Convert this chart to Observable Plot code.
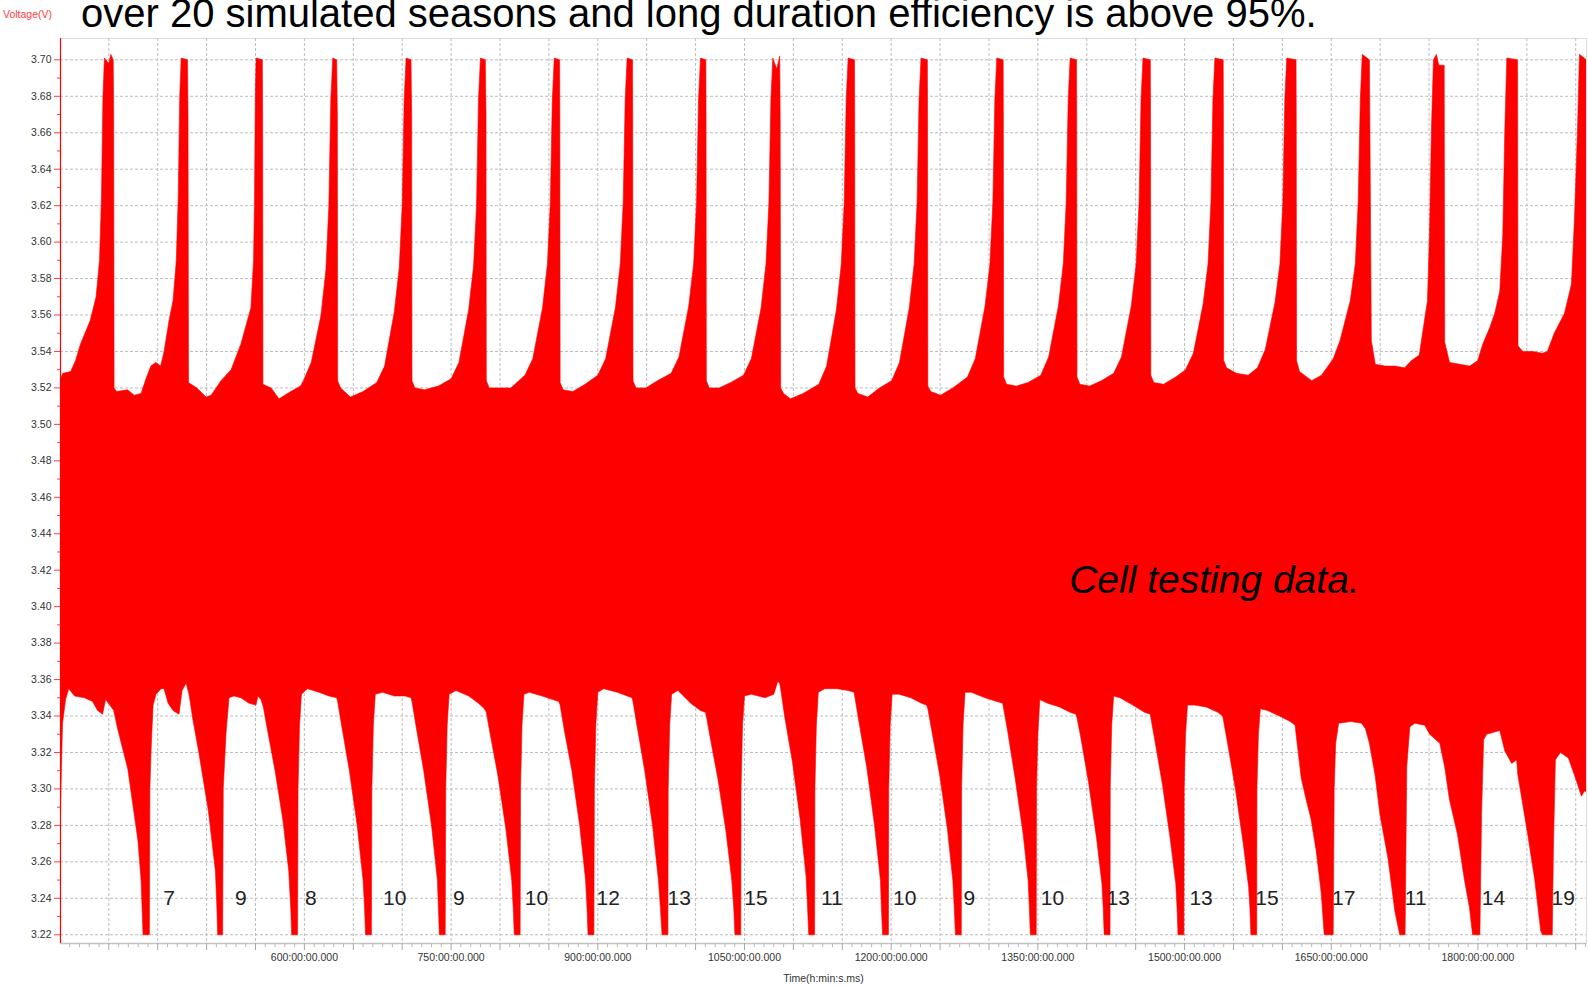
<!DOCTYPE html>
<html>
<head>
<meta charset="utf-8">
<script src="https://cdn.jsdelivr.net/npm/d3@7"></script>
<script src="https://cdn.jsdelivr.net/npm/@observablehq/plot@0.6"></script>
<style>
  html, body { margin: 0; padding: 0; background: #fff; }
  body { width: 1588px; height: 987px; overflow: hidden; font-family: "Liberation Sans", Arial, sans-serif; }
  #head { position: relative; height: 38px; overflow: hidden; }
  #ylab { position: absolute; left: 3px; top: 8px; font-size: 10.5px; line-height: 12px; color: #ff3b3b; white-space: nowrap; }
  #title { position: absolute; left: 81px; top: -7px; font-size: 40px; line-height: 40px; color: #000; white-space: nowrap; }
  #chart svg { display: block; }
</style>
</head>
<body>
<div id="head">
  <div id="ylab">Voltage(V)</div>
  <div id="title">over 20 simulated seasons and long duration efficiency is above 95%.</div>
</div>
<div id="chart"></div>
<script>
// Time in hours, voltage in V — upper envelope of the cycling signal
const upperEnvelope = [
[350.6,3.525],[353,3.528],[361,3.529],[366,3.535],[371,3.544],[381,3.557],[387,3.57],[390.5,3.59],[392.5,3.625],[394,3.68],[395.5,3.701],[400,3.698],[402,3.703],[404.5,3.70],[405,3.67],[405.4,3.52],
[408,3.518],[419,3.519],[426,3.516],[433,3.517],[438,3.525],[443,3.532],[448,3.534],[453,3.532],[456.5,3.54],[461.6,3.557],[465.7,3.568],[469,3.59],[471,3.625],[472.5,3.68],[474,3.701],[480.5,3.70],[481,3.67],[481.5,3.523],
[490,3.52],[499.5,3.515],[504.6,3.516],[509.7,3.52],[514.7,3.524],[525,3.53],[535,3.544],[545.3,3.564],[548,3.59],[549,3.625],[549.8,3.68],[550.6,3.701],[557,3.70],[557.3,3.67],[557.6,3.522],
[566,3.52],[574,3.514],[586,3.518],[596,3.521],[599,3.524],[607,3.534],[617,3.56],[622,3.585],[625,3.62],[627,3.678],[629,3.701],[633,3.70],[633.7,3.67],[634,3.524],
[637,3.52],[647,3.515],[660,3.518],[674,3.523],[682,3.532],[692,3.562],[697,3.586],[700,3.62],[702,3.678],[704,3.701],[709,3.70],[709.7,3.67],[710,3.524],
[713,3.52],[723,3.519],[737,3.521],[750,3.525],[758,3.534],[768,3.563],[773,3.587],[776,3.62],[778,3.678],[780,3.701],[785,3.70],[785.7,3.67],[786,3.524],
[789,3.52],[799,3.52],[811,3.52],[825.5,3.527],[833.5,3.536],[843.5,3.564],[848.5,3.588],[851.5,3.622],[853.5,3.678],[855.5,3.701],[861,3.70],[861.2,3.67],[861.5,3.523],
[864.5,3.519],[874.5,3.518],[887,3.522],[900,3.527],[908,3.536],[918,3.564],[923,3.588],[926,3.622],[928,3.678],[930,3.701],[935.5,3.70],[935.7,3.67],[936,3.524],
[939,3.52],[949,3.52],[961,3.524],[975,3.528],[983,3.537],[993,3.565],[998,3.588],[1001,3.622],[1003,3.678],[1005,3.701],[1010.5,3.70],[1010.7,3.67],[1011,3.524],
[1014,3.52],[1024,3.52],[1036,3.523],[1049,3.527],[1057,3.536],[1067,3.564],[1072,3.588],[1075,3.622],[1077,3.678],[1079,3.701],[1083,3.695],[1086,3.702],[1086.5,3.67],[1087,3.52],
[1090,3.517],[1097,3.514],[1110,3.517],[1126,3.522],[1134,3.532],[1144,3.563],[1149,3.588],[1152,3.622],[1154,3.678],[1156,3.701],[1162.5,3.70],[1162.7,3.67],[1163,3.52],
[1166,3.517],[1176,3.515],[1188,3.52],[1200.5,3.524],[1208.5,3.534],[1218.5,3.564],[1223.5,3.588],[1226.5,3.622],[1228.5,3.678],[1230.5,3.701],[1237,3.70],[1237.2,3.67],[1237.5,3.521],
[1240.5,3.518],[1250.5,3.516],[1263,3.52],[1278,3.526],[1286,3.536],[1296,3.565],[1301,3.588],[1304,3.622],[1306,3.678],[1308,3.701],[1314.5,3.70],[1314.7,3.67],[1315,3.526],
[1318,3.522],[1328,3.521],[1340,3.523],[1353,3.527],[1361,3.537],[1371,3.565],[1376,3.588],[1379,3.622],[1381,3.678],[1383,3.701],[1389.5,3.70],[1389.7,3.67],[1390,3.526],
[1393,3.522],[1403,3.521],[1415,3.524],[1427.5,3.528],[1435.5,3.537],[1445.5,3.565],[1450.5,3.588],[1453.5,3.622],[1455.5,3.678],[1457.5,3.701],[1465,3.70],[1465.2,3.67],[1465.5,3.527],
[1468.5,3.523],[1478.5,3.522],[1491,3.526],[1501,3.53],[1509,3.539],[1519,3.566],[1524,3.588],[1527,3.622],[1529,3.678],[1531,3.701],[1539.5,3.70],[1539.7,3.67],[1540,3.535],
[1543,3.531],[1553,3.528],[1565,3.527],[1574.5,3.531],[1582.5,3.541],[1592.5,3.567],[1597.5,3.588],[1600.5,3.622],[1602.5,3.678],[1604.5,3.701],[1614,3.70],[1614.2,3.67],[1614.5,3.535],
[1617.5,3.529],[1630,3.524],[1640,3.527],[1652,3.536],[1659,3.546],[1669.5,3.568],[1674.6,3.588],[1677.6,3.623],[1679.7,3.678],[1681.7,3.703],[1689,3.70],[1689.5,3.665],[1691,3.546],[1695,3.533],
[1705,3.532],[1715,3.532],[1725,3.531],[1732,3.535],[1740,3.538],[1745.3,3.557],[1748.4,3.568],[1750.4,3.604],[1752.5,3.663],[1754.5,3.70],[1757.5,3.703],[1760,3.697],[1765.5,3.697],[1766,3.545],[1771,3.534],
[1781.4,3.533],[1791.6,3.532],[1799.8,3.535],[1804.9,3.544],[1812,3.553],[1817.2,3.561],[1822.3,3.573],[1825.4,3.604],[1827.4,3.66],[1829.5,3.701],[1840.5,3.70],[1841,3.543],[1846,3.54],
[1856,3.54],[1866,3.539],[1871,3.54],[1878,3.55],[1888.5,3.561],[1895.6,3.577],[1898.7,3.613],[1901.7,3.66],[1903.8,3.703],[1911,3.70]
];

// lower envelope of the cycling signal
const lowerEnvelope = [
[350.6,3.288],[351.5,3.31],[352.7,3.336],[355.8,3.349],[359,3.355],[365,3.351],[375,3.35],[383.4,3.348],[388.5,3.343],[393.6,3.341],[396.7,3.349],[401,3.346],
[405,3.343],[409,3.333],[419.4,3.311],[429.7,3.272],[433,3.25],[435,3.22],[441.5,3.22],
[442,3.30],[443.2,3.321],[445.3,3.346],[448.3,3.352],[453.4,3.355],[456.5,3.355],[460.6,3.347],[465.7,3.343],[471.8,3.341],[474.9,3.354],[479,3.358],
[482,3.352],[486,3.338],[491.4,3.322],[501.8,3.288],[509,3.255],[510.5,3.235],[511.3,3.22],[516.4,3.22],
[517,3.30],[519.8,3.33],[522.9,3.35],[528,3.351],[535.1,3.35],[543.3,3.347],[550.5,3.346],[552.5,3.351],[555.6,3.349],
[558,3.345],[562,3.333],[570,3.31],[578,3.283],[584,3.255],[586,3.235],[587,3.22],[593,3.22],
[593.5,3.30],[595,3.335],[597,3.352],[603,3.355],[615,3.353],[625,3.351],[633,3.35],
[634,3.348],[638,3.335],[646,3.31],[654,3.28],[660,3.25],[661.5,3.235],[662.5,3.22],[668.5,3.22],
[669,3.30],[670.5,3.335],[672.5,3.352],[680,3.353],[692,3.351],[703,3.351],[709,3.35],
[710,3.348],[714,3.335],[722,3.31],[730,3.28],[736,3.25],[737,3.235],[738,3.22],[744,3.22],
[744.5,3.30],[746,3.335],[748,3.352],[755,3.354],[768,3.351],[778,3.347],[784,3.344],
[786,3.342],[790,3.33],[798,3.307],[806,3.278],[812,3.25],[813.5,3.235],[814.6,3.22],[820.6,3.22],
[821,3.30],[822.5,3.335],[824.5,3.352],[830,3.353],[843,3.351],[854,3.349],[860,3.348],
[861.5,3.346],[865.5,3.333],[873.5,3.31],[881.5,3.28],[887.5,3.25],[889,3.235],[890,3.22],[896,3.22],
[896.5,3.30],[898,3.335],[900,3.353],[906,3.355],[920,3.353],[930,3.351],[935,3.35],
[936,3.348],[940,3.335],[948,3.31],[956,3.28],[962,3.25],[964,3.235],[965.7,3.22],[971.7,3.22],
[972,3.30],[973.5,3.335],[975.5,3.352],[982,3.354],[995,3.347],[1005,3.343],[1010,3.342],
[1011,3.34],[1015,3.328],[1023,3.305],[1031,3.277],[1037,3.25],[1039,3.235],[1040.2,3.22],[1046.2,3.22],
[1046.5,3.30],[1048,3.335],[1050,3.351],[1057,3.352],[1071,3.35],[1080,3.352],[1084,3.359],[1086,3.358],
[1087,3.355],[1091,3.34],[1099,3.315],[1107,3.283],[1113,3.252],[1114.5,3.235],[1115.7,3.22],[1121.7,3.22],
[1122,3.30],[1123.5,3.335],[1125.5,3.353],[1132,3.355],[1145,3.355],[1156,3.354],[1162,3.353],
[1163,3.35],[1167,3.337],[1175,3.312],[1183,3.28],[1189,3.25],[1190,3.235],[1191.2,3.22],[1197.2,3.22],
[1197.5,3.30],[1199,3.335],[1201,3.352],[1208,3.352],[1220,3.35],[1231,3.347],[1236,3.346],
[1237.5,3.344],[1241.5,3.332],[1249.5,3.308],[1257.5,3.278],[1263,3.25],[1264.5,3.235],[1265.7,3.22],[1271.7,3.22],
[1272,3.30],[1273.5,3.335],[1275.5,3.353],[1282,3.353],[1296,3.35],[1308,3.348],[1314,3.347],
[1315,3.344],[1319,3.332],[1327,3.305],[1335,3.275],[1340,3.25],[1341.3,3.235],[1342.3,3.22],[1348.3,3.22],
[1348.6,3.30],[1350,3.33],[1352,3.349],[1360,3.347],[1372,3.345],[1383,3.342],[1389,3.341],
[1390,3.339],[1394,3.328],[1402,3.303],[1410,3.273],[1415.5,3.248],[1416.8,3.235],[1417.8,3.22],[1423.8,3.22],
[1424,3.30],[1425.5,3.335],[1427.5,3.351],[1434,3.35],[1447,3.346],[1459,3.342],[1465,3.341],
[1465.5,3.339],[1469.5,3.327],[1477.5,3.302],[1485.5,3.272],[1491,3.248],[1492.3,3.235],[1493.3,3.22],[1499.3,3.22],
[1499.6,3.30],[1501,3.33],[1503,3.346],[1510,3.346],[1522,3.345],[1534,3.342],[1539,3.34],
[1540,3.337],[1544,3.325],[1552,3.30],[1560,3.27],[1565.5,3.246],[1566.8,3.235],[1567.8,3.22],[1573.8,3.22],
[1574,3.30],[1575.5,3.33],[1577.5,3.344],[1585,3.343],[1597,3.34],[1608,3.337],[1613,3.335],
[1614.5,3.328],[1619.3,3.306],[1624.4,3.294],[1629.5,3.283],[1634.6,3.266],[1639.7,3.243],[1642.8,3.22],[1652,3.22],
[1653,3.30],[1654.5,3.325],[1657.6,3.336],[1670,3.337],[1681,3.336],[1685,3.333],[1689,3.325],
[1694.7,3.308],[1699.8,3.286],[1708,3.262],[1715,3.233],[1720,3.22],[1725.5,3.22],
[1727.2,3.312],[1730.3,3.334],[1735.4,3.336],[1745.6,3.335],[1750.7,3.33],[1761,3.325],[1766,3.312],
[1770.9,3.294],[1779.1,3.275],[1786.2,3.25],[1791.3,3.235],[1794.5,3.22],[1802,3.22],
[1803.7,3.286],[1805.8,3.327],[1808.9,3.33],[1822.3,3.332],[1827.4,3.321],[1834.5,3.314],[1839.6,3.316],[1840.7,3.308],
[1850.9,3.275],[1858.1,3.25],[1864.2,3.222],[1866,3.22],[1876,3.22],
[1877.2,3.268],[1879.2,3.316],[1884.3,3.32],[1892.5,3.317],[1899.7,3.306],[1905.8,3.296],[1908.9,3.299],[1911,3.298]
];

// numbers written next to each deep discharge
const dipCounts = [7, 9, 8, 10, 9, 10, 12, 13, 15, 11, 10, 9, 10, 13, 13, 15, 17, 11, 14, 19];
const dipCountTimes = [461.6, 535.1, 606.6, 692.4, 757.8, 837.3, 910.7, 983.2, 1061.7, 1139.3, 1213.8, 1280, 1364.9, 1432.1, 1516.9, 1584.2, 1662.8, 1736.4, 1815.9, 1887.2];

// axes
const yTickValues = [3.22, 3.24, 3.26, 3.28, 3.30, 3.32, 3.34, 3.36, 3.38, 3.40, 3.42, 3.44, 3.46, 3.48, 3.50, 3.52, 3.54, 3.56, 3.58, 3.60, 3.62, 3.64, 3.66, 3.68, 3.70];
const xLabelTicks = [600, 750, 900, 1050, 1200, 1350, 1500, 1650, 1800];
const xGridTicks = [400, 450, 500, 550, 600, 650, 700, 750, 800, 850, 900, 950, 1000, 1050, 1100, 1150, 1200, 1250, 1300, 1350, 1400, 1450, 1500, 1550, 1600, 1650, 1700, 1750, 1800, 1850, 1900];
const xDomain = [350.6, 1911];
const yDomain = [3.2152, 3.7117];

const yMinorTicks = d3.range(3.23, 3.71, 0.02).map(v => +v.toFixed(2));
const xMinorTicks = d3.range(360, 1911, 10).filter(t => t % 50 !== 0);

const toPts = arr => arr.map(([t, v]) => ({t, v}));
const band = toPts(upperEnvelope).concat(toPts(lowerEnvelope).reverse());
const countLabels = dipCounts.map((c, i) => ({t: dipCountTimes[i], v: 3.24, label: String(c)}));
const note = [{t: 1382, v: 3.4146, label: "Cell testing data."}];

const gridStyle = {stroke: "#bdbdbd", strokeOpacity: 1, strokeWidth: 1, strokeDasharray: "3,2"};

const chart = Plot.plot({
  width: 1588,
  height: 949,
  marginTop: 0,
  marginLeft: 60,
  marginRight: 2,
  marginBottom: 44,
  style: {fontFamily: "'Liberation Sans', Arial, sans-serif", fontSize: "10.5px", background: "#fff", color: "#333"},
  x: {domain: xDomain, label: null},
  y: {domain: yDomain, label: null},
  marks: [
    Plot.frame({stroke: "#dcdcdc"}),
    Plot.gridY(yTickValues, gridStyle),
    Plot.gridX(xGridTicks, gridStyle),
    Plot.line(band, {x: "t", y: "v", fill: "#ff0000", stroke: "#ff0000", strokeWidth: 0.6, curve: "linear", clip: true}),
    Plot.ruleY([yDomain[0]], {stroke: "#c4c4c4", strokeWidth: 1.5}),
    Plot.ruleX([xDomain[0]], {stroke: "#ff0000", strokeWidth: 1.2}),
    Plot.axisY(yTickValues, {tickSize: 6, tickPadding: 3, stroke: "#ff3b3b", fill: "#333", fontSize: 10.5, tickFormat: d3.format(".2f"), label: null}),
    Plot.axisY(yMinorTicks, {tickSize: 3, stroke: "#ff3b3b", tickFormat: () => "", label: null}),
    Plot.axisX(xGridTicks, {tickSize: 7, stroke: "#a8a8a8", tickFormat: () => "", label: null}),
    Plot.axisX(xMinorTicks, {tickSize: 4, stroke: "#b8b8b8", tickFormat: () => "", label: null}),
    Plot.axisX(xLabelTicks, {tickSize: 0, tickPadding: 10, fill: "#333", fontSize: 10.5, tickFormat: d => `${d}:00:00.000`, label: null}),
    Plot.text(["Time(h:min:s.ms)"], {frameAnchor: "bottom", dy: 35, lineAnchor: "middle", fontSize: 10.5, fill: "#333"}),
    Plot.text(countLabels, {x: "t", y: "v", text: "label", fontSize: 21, fill: "#222", textAnchor: "middle", lineAnchor: "middle"}),
    Plot.text(note, {x: "t", y: "v", text: "label", fontSize: 39, fontStyle: "italic", fill: "#000", textAnchor: "start", lineAnchor: "middle"})
  ]
});
document.getElementById("chart").appendChild(chart);
</script>
</body>
</html>
